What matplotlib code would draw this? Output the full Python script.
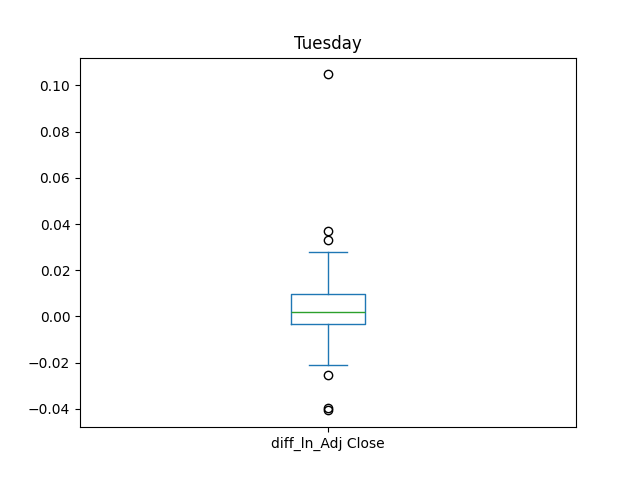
import matplotlib
matplotlib.use("Agg")
import matplotlib.pyplot as plt

label = "diff_ln_Adj Close"
q1 = -0.0035
med = 0.0017
q3 = 0.0095
whislo = -0.0212
whishi = 0.0277
fliers = [0.1048, 0.0368, 0.0333, -0.0255, -0.0398, -0.0407]

stats = [dict(label=label, q1=q1, med=med, q3=q3, whislo=whislo, whishi=whishi, fliers=fliers)]

fig, ax = plt.subplots(figsize=(6.4, 4.8), dpi=100)
c = "#1f77b4"
ax.bxp(stats, positions=[1],
       boxprops=dict(color=c), whiskerprops=dict(color=c), capprops=dict(color=c),
       medianprops=dict(color="#2ca02c"), flierprops=dict(marker="o", markeredgecolor="black", markerfacecolor="none"))
ax.set_xlim(0.5, 1.5)
ax.set_title("Tuesday")
fig.savefig("out.png")
